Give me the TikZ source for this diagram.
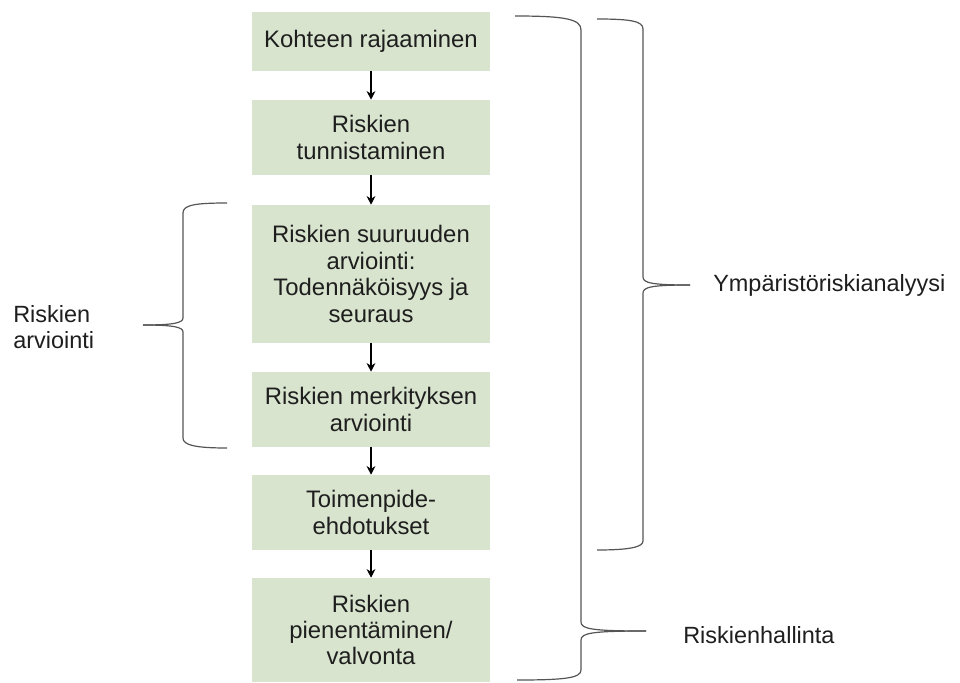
\documentclass[tikz,border=0pt]{standalone}
\usepackage{fontspec}
\setmainfont{Liberation Sans}
\usetikzlibrary{arrows.meta}
\definecolor{boxgreen}{RGB}{216,228,206}
\definecolor{inkgray}{RGB}{30,30,30}
\definecolor{bracegray}{RGB}{85,85,85}
\tikzset{
  stepbox/.style={rectangle, fill=boxgreen, minimum width=179pt, inner sep=0pt,
    align=center, text=inkgray, font=\fontsize{17.9}{19.8}\selectfont},
  flow/.style={draw=black, line width=0.8pt, -{Stealth[length=6.5pt,width=6.5pt]}},
  brace/.style={draw=bracegray, line width=0.9pt},
  sidelabel/.style={anchor=west, align=left, text=inkgray, inner sep=0pt,
    font=\fontsize{17.6}{19.8}\selectfont}
}
\begin{document}
\begin{tikzpicture}[x=0.75pt, y=-0.75pt]
\useasboundingbox (0,0) rectangle (960,682);

% process steps
\node[stepbox, minimum height=44.25pt] (s1) at (371,41.5) {Kohteen rajaaminen};
\node[stepbox, minimum height=56.25pt] (s2) at (371,137.5) {Riskien\\tunnistaminen};
\node[stepbox, minimum height=103.5pt] (s3) at (371,274) {Riskien suuruuden\\arviointi:\\Todennäköisyys ja\\seuraus};
\node[stepbox, minimum height=56.25pt] (s4) at (371,409.5) {Riskien merkityksen\\arviointi};
\node[stepbox, minimum height=56.25pt] (s5) at (371,512.5) {Toimenpide-\\ehdotukset};
\node[stepbox, minimum height=78pt] (s6) at (371,630) {Riskien\\pienentäminen/\\valvonta};

% flow arrows
\draw[flow] (s1) -- (s2);
\draw[flow] (s2) -- (s3);
\draw[flow] (s3) -- (s4);
\draw[flow] (s4) -- (s5);
\draw[flow] (s5) -- (s6);

% outer brace: Riskienhallinta
\draw[brace] (515,16) .. controls (565,16) and (581,19) .. (581,30)
  -- (581,622) .. controls (581,629) and (592,631) .. (646,631);
\draw[brace] (646,631) .. controls (592,631) and (581,633) .. (581,640)
  -- (581,670) .. controls (581,678) and (565,680) .. (517,680);

% inner brace: Ympäristöriskianalyysi
\draw[brace] (597,19) .. controls (630,19) and (643,21) .. (643,29)
  -- (643,277) .. controls (643,283) and (652,285) .. (690,285);
\draw[brace] (690,285) .. controls (652,285) and (643,287) .. (643,293)
  -- (643,541) .. controls (643,547) and (630,550) .. (597,550);

% left brace: Riskien arviointi
\draw[brace] (227,203) .. controls (195,203) and (183,205) .. (183,213)
  -- (183,318) .. controls (183,323) and (173,325) .. (143,325);
\draw[brace] (143,325) .. controls (173,325) and (183,327) .. (183,332)
  -- (183,438) .. controls (183,445) and (195,448) .. (227,448);

% labels
\node[sidelabel] (lyr) at (713,285) {Ympäristöriskianalyysi};
\node[sidelabel] (lrh) at (683,635) {Riskienhallinta};
\node[sidelabel] (lra) at (13,327) {Riskien\\arviointi};
\end{tikzpicture}
\end{document}
